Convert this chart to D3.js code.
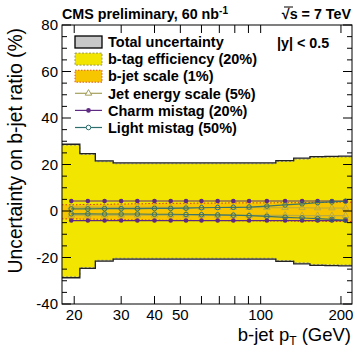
<!DOCTYPE html>
<html>
<head>
<meta charset="utf-8">
<script src="https://cdn.jsdelivr.net/npm/d3@7"></script>
<style>
  body { margin: 0; background: #fff; }
  svg { font-family: "Liberation Sans", Arial, sans-serif; }
</style>
</head>
<body>
<script>
// bin edges in b-jet pT (GeV)
var binEdges = [18, 21, 24, 28, 32, 37, 43, 49, 56, 64, 74, 84, 97, 114, 133, 153, 174, 196, 220];

// uncertainties in % (one value per bin)
var totalUnc = [28.7, 24.7, 21.6, 20.7, 20.7, 20.7, 20.7, 20.7, 20.7, 20.7, 20.7, 20.7, 20.7, 21.7, 22.7, 23.4, 23.5, 23.6];
var btagUnc  = [28.3, 24.3, 21.2, 20.3, 20.3, 20.3, 20.3, 20.3, 20.3, 20.3, 20.3, 20.3, 20.3, 21.3, 22.3, 23.0, 23.1, 23.2];
var scaleUp  = [2.7, 2.8, 2.9, 3.0, 3.1, 3.2, 3.3, 3.3, 3.4, 3.4, 3.5, 3.5, 3.5, 3.6, 3.6, 3.7, 3.7, 3.8];
var scaleDn  = [-3.4, -3.5, -3.6, -3.7, -3.8, -3.9, -4.0, -4.0, -4.1, -4.1, -4.2, -4.2, -4.3, -4.3, -4.4, -4.4, -4.5, -4.5];
var jesUp    = [1.7, 1.7, 1.6, 1.6, 1.6, 1.6, 1.6, 1.5, 1.5, 1.5, 1.5, 1.5, 1.4, 1.4, 1.4, 1.3, 1.3, 1.2];
var jesDn    = [-1.8, -1.8, -1.8, -1.8, -1.8, -1.8, -1.8, -1.8, -1.8, -1.9, -1.9, -1.9, -1.9, -1.9, -2.0, -2.0, -2.0, -2.0];
var charmUp  = [4.3, 4.3, 4.3, 4.3, 4.3, 4.3, 4.3, 4.3, 4.3, 4.3, 4.3, 4.3, 4.3, 4.3, 4.3, 4.3, 4.3, 4.3];
var charmDn  = [-4.1, -4.1, -4.1, -4.1, -4.1, -4.1, -4.1, -4.1, -4.1, -4.1, -4.1, -4.1, -4.1, -4.1, -4.1, -4.1, -4.1, -4.1];
var lightUp  = [0.9, 0.9, 1.0, 1.0, 1.0, 1.1, 1.1, 1.2, 1.4, 1.5, 1.6, 1.7, 2.1, 2.6, 3.1, 3.6, 3.9, 4.2];
var lightDn  = [-1.2, -1.2, -1.3, -1.3, -1.3, -1.4, -1.4, -1.5, -1.6, -1.7, -1.8, -2.0, -2.3, -2.7, -3.0, -3.3, -3.6, -3.9];

var xTickLabels = [20, 30, 40, 50, 100, 200];
var xMajorTicks = [20, 30, 40, 50, 60, 70, 80, 90, 100, 200];
var yTickLabels = [-40, -20, 0, 20, 40, 60, 80];

var legendItems = ["Total uncertainty", "b-tag efficiency (20%)", "b-jet scale (1%)",
  "Jet energy scale (5%)", "Charm mistag (20%)", "Light mistag (50%)"];

var W = 357, H = 352;
var margin = { top: 25, right: 5, bottom: 48, left: 62 };
var width = W - margin.left - margin.right;
var height = H - margin.top - margin.bottom;

var x = d3.scaleLog().domain([18, 220]).range([0, width]);
var y = d3.scaleLinear().domain([-40, 80]).range([height, 0]);

var colYellow = "#f2e600", colOrange = "#f7c600";
var colJes = "#a4a05a", colCharm = "#5e2a82", colLight = "#2d6e6e";

var svg = d3.select("body").append("svg")
  .attr("width", W).attr("height", H);

svg.append("defs").append("clipPath").attr("id", "clip")
  .append("rect").attr("width", width).attr("height", height);

var g = svg.append("g")
  .attr("transform", "translate(" + margin.left + "," + margin.top + ")");

var plot = g.append("g").attr("clip-path", "url(#clip)");

function stepPts(vals) {
  var pts = vals.map(function (v, i) { return [binEdges[i], v]; });
  pts.push([binEdges[binEdges.length - 1], vals[vals.length - 1]]);
  return pts;
}
function band(lo, hi) {
  return hi.map(function (v, i) { return [binEdges[i], lo[i], v]; })
    .concat([[binEdges[binEdges.length - 1], lo[lo.length - 1], hi[hi.length - 1]]]);
}
var areaStep = d3.area().curve(d3.curveStepAfter)
  .x(function (d) { return x(d[0]); })
  .y0(function (d) { return y(d[1]); })
  .y1(function (d) { return y(d[2]); });
var lineStep = d3.line().curve(d3.curveStepAfter)
  .x(function (d) { return x(d[0]); })
  .y(function (d) { return y(d[1]); });

function neg(a) { return a.map(function (v) { return -v; }); }

// total (gray) then b-tag (yellow)
plot.append("path").attr("d", areaStep(band(neg(totalUnc), totalUnc)))
  .attr("fill", "#d4d4d4");
plot.append("path").attr("d", areaStep(band(neg(btagUnc), btagUnc)))
  .attr("fill", colYellow);
[btagUnc, neg(btagUnc)].forEach(function (a) {
  plot.append("path").attr("d", lineStep(stepPts(a)))
    .attr("fill", "none").attr("stroke", "#9a9a6a").attr("stroke-width", 1)
    .attr("stroke-dasharray", "2,2");
});

// b-jet scale band
plot.append("path").attr("d", areaStep(band(scaleDn, scaleUp)))
  .attr("fill", colOrange);
[scaleUp, scaleDn].forEach(function (a) {
  plot.append("path").attr("d", lineStep(stepPts(a)))
    .attr("fill", "none").attr("stroke", "#d83a1a").attr("stroke-width", 1)
    .attr("stroke-dasharray", "1.5,2");
});

var centersLin = binEdges.slice(0, -1).map(function (e, i) { return (e + binEdges[i + 1]) / 2; });
var lineC = d3.line()
  .x(function (d) { return x(d[0]); })
  .y(function (d) { return y(d[1]); });

function series(vals, color, marker, opacity) {
  var pts = vals.map(function (v, i) { return [centersLin[i], v]; });
  var s = plot.append("g").attr("opacity", opacity);
  s.append("path").attr("d", lineC(pts)).attr("fill", "none")
    .attr("stroke", color).attr("stroke-width", 1.2);
  var m = s.selectAll(".m").data(pts).enter();
  if (marker === "tri") {
    m.append("path").attr("d", d3.symbol().type(d3.symbolTriangle).size(18))
      .attr("transform", function (d) { return "translate(" + x(d[0]) + "," + y(d[1]) + ")"; })
      .attr("fill", "none").attr("stroke", color).attr("stroke-width", 1);
  } else if (marker === "dot") {
    m.append("circle").attr("cx", function (d) { return x(d[0]); })
      .attr("cy", function (d) { return y(d[1]); }).attr("r", 2.3).attr("fill", color);
  } else {
    m.append("circle").attr("cx", function (d) { return x(d[0]); })
      .attr("cy", function (d) { return y(d[1]); }).attr("r", 2.3)
      .attr("fill", "none").attr("stroke", color).attr("stroke-width", 1);
  }
}
series(jesUp, colJes, "tri", 0.7);
series(jesDn, colJes, "tri", 0.7);
series(charmUp, colCharm, "dot", 1);
series(charmDn, colCharm, "dot", 1);
series(lightUp, colLight, "open", 0.9);
series(lightDn, colLight, "open", 0.9);

// total outline
[totalUnc, neg(totalUnc)].forEach(function (a) {
  plot.append("path").attr("d", lineStep(stepPts(a)))
    .attr("fill", "none").attr("stroke", "#222").attr("stroke-width", 1.3);
});

// frame
g.append("rect").attr("width", width).attr("height", height)
  .attr("fill", "none").attr("stroke", "#000").attr("stroke-width", 1);

// y ticks (left and right), minor every 5
var yMinor = d3.range(-40, 81, 5);
yMinor.forEach(function (v) {
  var len = (v % 20 === 0) ? 9 : 5;
  g.append("line").attr("x1", 0).attr("x2", len).attr("y1", y(v)).attr("y2", y(v)).attr("stroke", "#000");
  g.append("line").attr("x1", width - len).attr("x2", width).attr("y1", y(v)).attr("y2", y(v)).attr("stroke", "#000");
});
g.selectAll(".ylab").data(yTickLabels).enter().append("text")
  .attr("x", -4).attr("y", function (d) { return y(d); }).attr("dy", "0.36em")
  .attr("text-anchor", "end").attr("font-size", 15).text(function (d) { return d; });

// x ticks (bottom and top)
xMajorTicks.forEach(function (v) {
  g.append("line").attr("x1", x(v)).attr("x2", x(v)).attr("y1", height).attr("y2", height - 8).attr("stroke", "#000");
  g.append("line").attr("x1", x(v)).attr("x2", x(v)).attr("y1", 0).attr("y2", 8).attr("stroke", "#000");
});
g.selectAll(".xlab").data(xTickLabels).enter().append("text")
  .attr("x", function (d) { return x(d); }).attr("y", height + 16)
  .attr("text-anchor", "middle").attr("font-size", 15).text(function (d) { return d; });

// axis titles
var xt = svg.append("text").attr("x", 351).attr("y", 341).attr("text-anchor", "end")
  .attr("font-size", 18.5);
xt.append("tspan").text("b-jet p");
xt.append("tspan").attr("dy", 4).attr("font-size", 12).text("T");
xt.append("tspan").attr("dy", -4).text(" (GeV)");

svg.append("text").attr("transform", "translate(22,28) rotate(-90)")
  .attr("text-anchor", "end").attr("font-size", 19.3)
  .text("Uncertainty on b-jet ratio (%)");

// header
var t1 = svg.append("text").attr("x", 62).attr("y", 19).attr("font-size", 14.3).attr("font-weight", "bold");
t1.append("tspan").text("CMS preliminary, 60 nb");
t1.append("tspan").attr("dy", -5).attr("font-size", 10).text("-1");
var t2 = svg.append("text").attr("x", 351).attr("y", 19).attr("font-size", 14.3)
  .attr("font-weight", "bold").attr("text-anchor", "end");
t2.append("tspan").text("\u221As = 7 TeV");
svg.append("line").attr("x1", 284).attr("x2", 293).attr("y1", 7).attr("y2", 7).attr("stroke", "#000");

svg.append("text").attr("x", 277).attr("y", 48).attr("font-size", 14.3).attr("font-weight", "bold")
  .text("|y| < 0.5");

// legend
var leg = svg.append("g");
var ly0 = 42, lstep = 17.1, lx0 = 75, lx1 = 102;
legendItems.forEach(function (name, i) {
  var cy = ly0 + i * lstep;
  if (i === 0) {
    leg.append("rect").attr("x", lx0).attr("y", cy - 6).attr("width", lx1 - lx0).attr("height", 12)
      .attr("fill", "#c8c8c8").attr("stroke", "#000").attr("stroke-width", 1.3);
  } else if (i === 1) {
    leg.append("rect").attr("x", lx0).attr("y", cy - 6).attr("width", lx1 - lx0).attr("height", 12)
      .attr("fill", colYellow).attr("stroke", "#9a9a50").attr("stroke-dasharray", "2,1.5");
  } else if (i === 2) {
    leg.append("rect").attr("x", lx0).attr("y", cy - 6).attr("width", lx1 - lx0).attr("height", 12)
      .attr("fill", colOrange).attr("stroke", "#d85a20").attr("stroke-dasharray", "1.5,1.5");
  } else {
    var c = [colJes, colCharm, colLight][i - 3];
    leg.append("line").attr("x1", lx0).attr("x2", lx1).attr("y1", cy).attr("y2", cy)
      .attr("stroke", c).attr("stroke-width", 1.2);
    if (i === 3) {
      leg.append("path").attr("d", d3.symbol().type(d3.symbolTriangle).size(18))
        .attr("transform", "translate(" + ((lx0 + lx1) / 2) + "," + cy + ")")
        .attr("fill", "#fff").attr("stroke", c);
    } else if (i === 4) {
      leg.append("circle").attr("cx", (lx0 + lx1) / 2).attr("cy", cy).attr("r", 2.3).attr("fill", c);
    } else {
      leg.append("circle").attr("cx", (lx0 + lx1) / 2).attr("cy", cy).attr("r", 2.3)
        .attr("fill", "#fff").attr("stroke", c);
    }
  }
  leg.append("text").attr("x", 108).attr("y", cy).attr("dy", "0.36em")
    .attr("font-size", 14.5).attr("font-weight", "bold").text(name);
});
</script>
</body>
</html>
